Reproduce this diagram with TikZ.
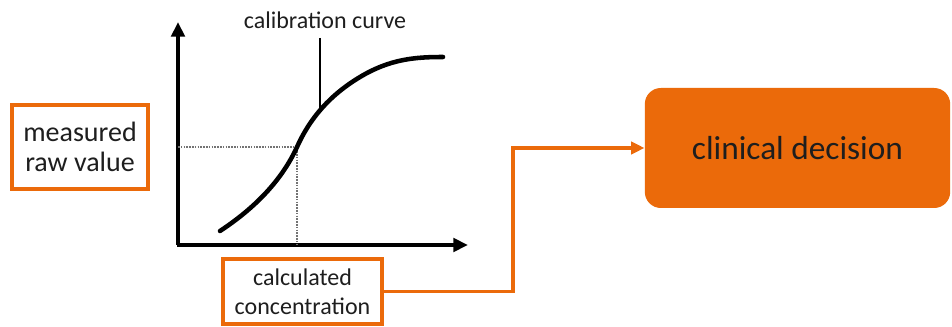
\documentclass[tikz,border=0pt]{standalone}
\usepackage{fontspec}
\setmainfont{Carlito}
\usetikzlibrary{arrows.meta}
\definecolor{accent}{HTML}{EB6A0A}
\definecolor{ink}{HTML}{1E1E1E}
\tikzset{
  framebox/.style={draw=accent, line width=3pt, fill=white, text=ink, align=center, inner sep=0pt},
  decisionbox/.style={fill=accent, rounded corners=12pt, text=ink, inner sep=0pt},
  axis/.style={line width=3pt, -{Triangle[length=11pt,width=10pt]}},
  guide/.style={black!55, line width=1.4pt, dash pattern=on 1.2pt off 0.9pt},
  conn/.style={draw=accent, line width=2.6pt, -{Triangle[length=10pt,width=9pt]}}
}
\begin{document}
\begin{tikzpicture}[x=0.75pt,y=-0.75pt]
  \useasboundingbox (0,0) rectangle (952,327);

  % axes of the calibration chart
  \coordinate (origin) at (178,245);
  \coordinate (ytop) at (178,22);
  \coordinate (xend) at (468,245);
  \draw[axis] (origin) -- (ytop);
  \draw[axis] ([xshift=-1.1pt]origin) -- (xend);

  % reading the curve: raw value across, concentration down
  \coordinate (hit) at (297,147);
  \draw[guide] (origin |- hit) -- (hit) -- (hit |- origin);

  % calibration curve
  \draw[line width=3.4pt, line cap=round]
    (220,231) .. controls (255,208) and (282,180) .. (hit)
    .. controls (310,118) and (330,95) .. (360,77)
    .. controls (390,59) and (415,57) .. (443,57);

  % label and pointer
  \node[text=ink, font=\fontsize{18}{20}\selectfont] (curvelabel) at (325,20) {calibration curve};
  \coordinate (pointer) at (320,108);
  \draw[line width=1.1pt] (320,38) -- (pointer);

  % boxes
  \node[framebox, minimum width=102pt, minimum height=63pt,
        font=\fontsize{21}{22.5}\selectfont] (raw) at (80,147) {measured\\raw value};
  \node[framebox, minimum width=119pt, minimum height=49pt,
        font=\fontsize{18}{21.75}\selectfont] (calc) at (302.5,291.5) {calculated\\concentration};
  \node[decisionbox, minimum width=229pt, minimum height=90pt,
        font=\fontsize{25}{28}\selectfont] (decision) at (797.5,148) {clinical decision};

  % connector from the concentration to the decision
  \coordinate (bend) at (513,0);
  \draw[conn] (calc.east) -| (bend |- decision.west) -- (decision.west);
\end{tikzpicture}
\end{document}
